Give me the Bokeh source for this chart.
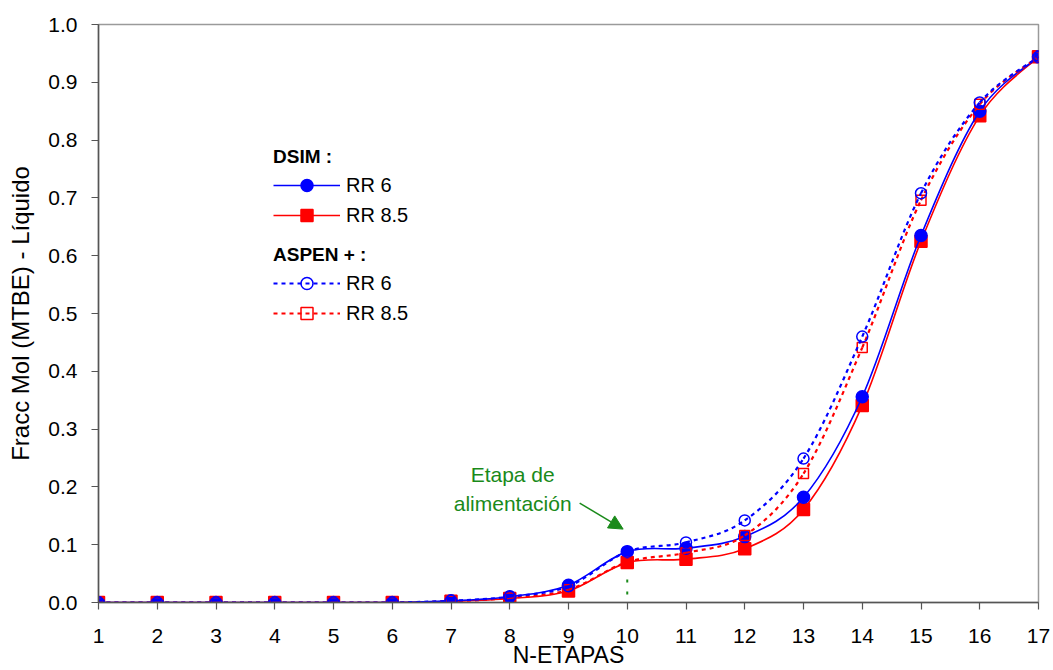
from bokeh.plotting import figure
from bokeh.models import (Legend, LegendItem, Label, Arrow, NormalHead, FixedTicker,
                          Range1d, ColumnDataSource, NumeralTickFormatter)
from bokeh.embed import file_html
from bokeh.resources import INLINE

# ---- data ----
stages = list(range(1, 18))
dsim_rr6 = [0, 0, 0, 0, 0, 0, 0.003, 0.010, 0.030, 0.088, 0.094, 0.114, 0.182, 0.356, 0.635, 0.850, 0.944]
dsim_rr85 = [0, 0, 0, 0, 0, 0, 0.002, 0.007, 0.020, 0.069, 0.075, 0.093, 0.161, 0.341, 0.625, 0.842, 0.944]
aspen_rr6 = [0, 0, 0, 0, 0, 0, 0.003, 0.010, 0.028, 0.088, 0.104, 0.142, 0.249, 0.460, 0.708, 0.865, 0.944]
aspen_rr85 = [0, 0, 0, 0, 0, 0, 0.002, 0.008, 0.022, 0.070, 0.086, 0.116, 0.223, 0.441, 0.696, 0.862, 0.944]
feed_stage = 10
y_ticks = [round(0.1 * i, 1) for i in range(11)]

BLUE = "#0000FF"
RED = "#FF0000"
GREEN = "#1A8A1A"
FONT = "Liberation Sans"


def smooth_source(xs, ys):
    """Catmull-Rom style bezier control points (smoothed line rendering)."""
    n = len(xs)
    d = dict(x0=[], y0=[], x1=[], y1=[], cx0=[], cy0=[], cx1=[], cy1=[])
    for i in range(n - 1):
        a = i - 1 if i > 0 else i
        b = i + 2 if i + 2 < n else i + 1
        d["x0"].append(xs[i]); d["y0"].append(ys[i])
        d["x1"].append(xs[i + 1]); d["y1"].append(ys[i + 1])
        d["cx0"].append(xs[i] + (xs[i + 1] - xs[a]) / 6.0)
        d["cy0"].append(ys[i] + (ys[i + 1] - ys[a]) / 6.0)
        d["cx1"].append(xs[i + 1] - (xs[b] - xs[i]) / 6.0)
        d["cy1"].append(ys[i + 1] - (ys[b] - ys[i]) / 6.0)
    return ColumnDataSource(d)


p = figure(frame_width=940, frame_height=578, x_range=Range1d(1, 17), y_range=Range1d(0, 1.0),
           output_backend="svg", toolbar_location=None,
           min_border_left=98, min_border_right=15, min_border_top=24, min_border_bottom=68)
p.grid.visible = False
p.outline_line_color = "#9A9A9A"
p.outline_line_width = 1.5
p.background_fill_color = "white"
p.border_fill_color = "white"

# axes
p.xaxis.ticker = FixedTicker(ticks=stages)
p.yaxis.ticker = FixedTicker(ticks=y_ticks)
p.yaxis.formatter = NumeralTickFormatter(format="0.0")
for ax in (p.xaxis[0], p.yaxis[0]):
    ax.axis_line_color = "#555555"
    ax.axis_line_width = 1.5
    ax.major_tick_line_color = "#555555"
    ax.major_tick_line_width = 1.2
    ax.major_tick_in = 0
    ax.major_tick_out = 7
    ax.minor_tick_line_color = None
    ax.major_label_text_font = FONT
    ax.major_label_text_font_size = "21px"
    ax.major_label_text_color = "black"
    ax.axis_label_text_font = FONT
    ax.axis_label_text_font_style = "normal"
    ax.axis_label_text_color = "black"
p.xaxis.major_label_standoff = 19
p.yaxis.major_label_standoff = 14
p.xaxis.axis_label = "N-ETAPAS"
p.xaxis.axis_label_text_font_size = "23px"
p.xaxis.axis_label_standoff = -4
p.yaxis.axis_label = "Fracc Mol (MTBE) - Líquido"
p.yaxis.axis_label_text_font_size = "24px"
p.yaxis.axis_label_standoff = 11

# series
series = [
    ("dsim_rr85", dsim_rr85, RED, None, "square", RED, 12),
    ("dsim_rr6", dsim_rr6, BLUE, None, "circle", BLUE, 12),
    ("aspen_rr85", aspen_rr85, RED, "4 4", "square", None, 10),
    ("aspen_rr6", aspen_rr6, BLUE, "4 4", "circle", None, 11),
]
rend = {}
for name, ys, col, dash, marker, fill, size in series:
    src = smooth_source(stages, ys)
    kw = dict(line_color=col, line_width=2.2 if dash else 1.6)
    if dash:
        kw["line_dash"] = dash
    b = p.bezier(x0="x0", y0="y0", x1="x1", y1="y1", cx0="cx0", cy0="cy0",
                 cx1="cx1", cy1="cy1", source=src, **kw)
    s = p.scatter(stages, ys, marker=marker, size=size, line_color=col,
                  fill_color=fill, line_width=1.5)
    rend[name] = (b, s)

# feed stage annotation
p.segment(x0=[feed_stage], y0=[0.04], x1=[feed_stage], y1=[0.0],
          line_color=GREEN, line_width=2, line_dash="3 9")
p.add_layout(Arrow(x_start=9.19, y_start=0.172, x_end=9.93, y_end=0.127,
                   line_color=GREEN, line_width=1.5,
                   end=NormalHead(size=14, fill_color=GREEN, line_color=GREEN)))
p.add_layout(Label(x=8.05, y=0.197, text="Etapa de\nalimentación", text_align="center",
                   text_baseline="middle", text_font=FONT, text_font_size="21px",
                   text_color=GREEN, text_line_height=1.25))

# legends
def make_legend(title, items, loc):
    lg = Legend(items=items, title=title, location=loc,
                title_text_font=FONT, title_text_font_style="bold",
                title_text_font_size="19px", title_text_color="black",
                title_standoff=2,
                label_text_font=FONT, label_text_font_size="20px",
                label_text_color="black", label_standoff=6,
                glyph_width=67, glyph_height=30, label_height=30,
                spacing=0, padding=0, margin=0,
                border_line_color=None, background_fill_alpha=0)
    p.add_layout(lg)

make_legend("DSIM :", [LegendItem(label="RR 6", renderers=list(rend["dsim_rr6"])),
                       LegendItem(label="RR 8.5", renderers=list(rend["dsim_rr85"]))],
            (175, 372))
make_legend("ASPEN + :", [LegendItem(label="RR 6", renderers=list(rend["aspen_rr6"])),
                          LegendItem(label="RR 8.5", renderers=list(rend["aspen_rr85"]))],
            (175, 274))

open("out.html", "w").write(file_html(p, INLINE))
